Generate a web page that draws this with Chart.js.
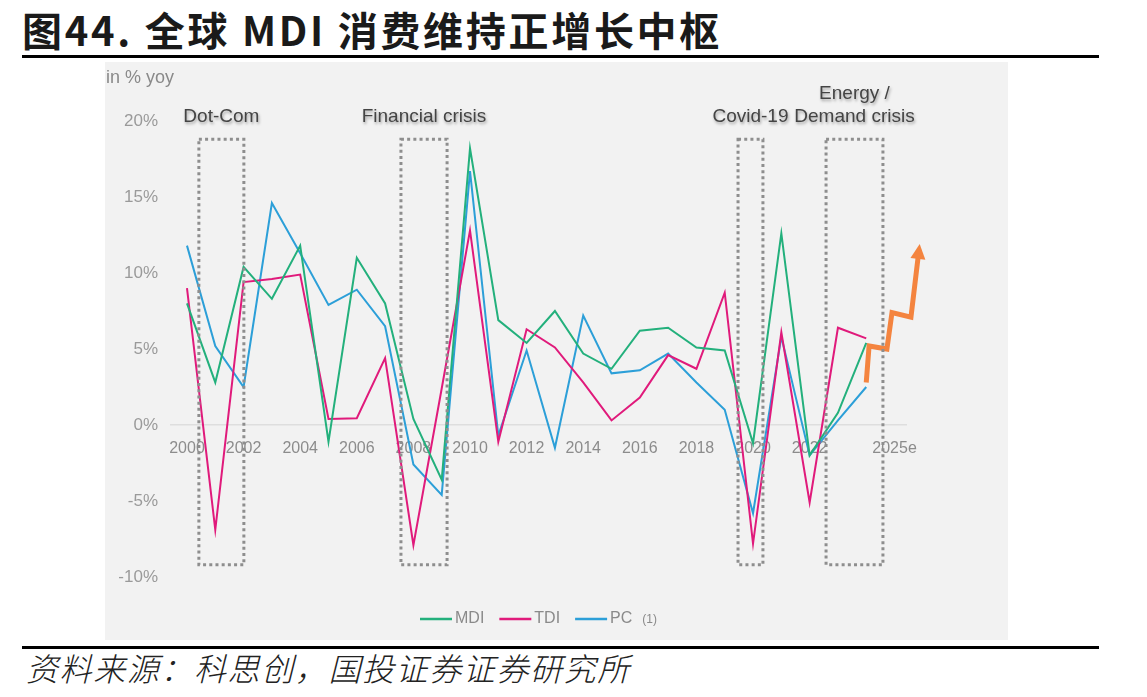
<!DOCTYPE html>
<html><head><meta charset="utf-8">
<script src="https://cdn.jsdelivr.net/npm/chart.js@4.4.1/dist/chart.umd.min.js"></script>
<style>
html,body{margin:0;padding:0;background:#fff;width:1147px;height:697px;overflow:hidden;}
#title{position:absolute;left:22px;top:9px;font:700 40px/40px "Noto Sans CJK SC";letter-spacing:2.7px;color:#1a1a1a;white-space:nowrap;}
.rule{position:absolute;left:22px;width:1077px;height:3px;background:#000;}
#box{position:absolute;left:105px;top:62px;width:903px;height:578px;background:#f2f2f2;}
#unit{position:absolute;left:1px;top:5px;font:18px "Liberation Sans";color:#8a8a8a;white-space:nowrap;}
#src{position:absolute;left:26px;top:651px;font:italic 300 32px/32px "Noto Sans CJK SC";letter-spacing:1.6px;color:#222;white-space:nowrap;}
canvas{position:absolute;left:0;top:0;}
</style></head>
<body>
<div id="title">图44. 全球 MDI 消费维持正增长中枢</div>
<div class="rule" style="top:55px"></div>
<div id="box"><canvas id="c" width="903" height="578"></canvas><div id="unit">in % yoy</div></div>
<div class="rule" style="top:646px"></div>
<div id="src">资料来源：科思创，国投证券证券研究所</div>
<script>
// ---- data ----
const years = [2000,2001,2002,2003,2004,2005,2006,2007,2008,2009,2010,2011,2012,2013,2014,2015,2016,2017,2018,2019,2020,2021,2022,2023,2024];
const mdi = [8.0,2.8,10.4,8.3,11.8,-1.1,11.0,8.0,0.4,-3.6,18.2,6.9,5.4,7.5,4.7,3.7,6.2,6.4,5.1,4.9,-1.2,12.6,-2.0,0.8,5.4];
const tdi = [9.0,-6.9,9.4,9.6,9.9,0.4,0.45,4.4,-7.9,2.4,12.8,-1.1,6.3,5.1,2.8,0.3,1.8,4.6,3.7,8.7,-7.8,6.1,-5.1,6.4,5.7];
const pc  = [11.8,5.2,2.5,14.6,11.3,7.9,8.9,6.5,-2.6,-4.6,16.7,-0.7,4.9,-1.5,7.2,3.4,3.6,4.7,2.8,1.0,-5.8,5.8,-2.0,0.3,2.5];
const forecastX = [2024,2024.1,2024.73,2024.91,2025.58,2025.83];
const forecastY = [2.8,5.2,5.0,7.4,7.1,11.0];
const xTicks = [2000,2002,2004,2006,2008,2010,2012,2014,2016,2018,2020,2022,2025];
const xTickLabels = ['2000','2002','2004','2006','2008','2010','2012','2014','2016','2018','2020','2022','2025e'];
const yTicks = [-10,-5,0,5,10,15,20];
const crisisLabels = [['Dot-Com'],['Financial crisis'],['Covid-19'],['Energy /','Demand crisis']];
const crisisFrom = [2000.42,2007.56,2019.47,2022.58];
const crisisTo = [2002.01,2009.19,2020.35,2024.59];
const seriesNames = ['MDI','TDI','PC'];
const xRange = [1999.4, 2025.44];

// ---- styles ----
const GREEN='#23b07c', PINK='#e01a7b', BLUE='#2c9fd8', ORANGE='#f4843f';
const pts = (xs, ys) => xs.map((x,i)=>({x, y: ys[i]}));

const crisisPlugin = {
  id:'crisis',
  afterDatasetsDraw(chart){
    const {ctx, scales:{x,y}, chartArea} = chart;
    ctx.save();
    ctx.strokeStyle='#8e8e8e'; ctx.lineWidth=3; ctx.setLineDash([3,3.2]);
    const yt = y.getPixelForValue(18.8), yb = y.getPixelForValue(-9.2);
    crisisFrom.forEach((f,i)=>{
      const xl = x.getPixelForValue(f), xr = x.getPixelForValue(crisisTo[i]);
      ctx.strokeRect(xl, yt, xr-xl, yb-yt);
    });
    ctx.setLineDash([]);
    ctx.font='19px "Liberation Sans"'; ctx.fillStyle='#444';
    ctx.textAlign='center'; ctx.textBaseline='middle';
    ctx.shadowColor='rgba(0,0,0,0.35)'; ctx.shadowBlur=3; ctx.shadowOffsetX=1; ctx.shadowOffsetY=2;
    crisisLabels.forEach((lab,i)=>{
      const xc = (x.getPixelForValue(crisisFrom[i]) + x.getPixelForValue(crisisTo[i]))/2;
      const n = lab.length;
      lab.forEach((t,j)=>{
        ctx.fillText(t, xc, chartArea.top - 4 - (n-1-j)*23);
      });
    });
    ctx.restore();
  }
};

const arrowPlugin = {
  id:'arrowHead',
  afterDatasetsDraw(chart){
    const meta = chart.getDatasetMeta(3);
    const el = meta.data;
    const a = el[el.length-2], b = el[el.length-1];
    const dx=b.x-a.x, dy=b.y-a.y, L=Math.hypot(dx,dy), ux=dx/L, uy=dy/L;
    const ctx=chart.ctx;
    const tipX=b.x+ux*14, tipY=b.y+uy*14, bx=b.x-ux*1, by=b.y-uy*1, hw=7.5;
    ctx.save(); ctx.fillStyle=ORANGE; ctx.beginPath();
    ctx.moveTo(tipX,tipY); ctx.lineTo(bx-uy*hw, by+ux*hw); ctx.lineTo(bx+uy*hw, by-ux*hw); ctx.closePath(); ctx.fill();
    ctx.restore();
  }
};

const legendPlugin = {
  id:'customLegend',
  afterDraw(chart){
    const ctx=chart.ctx, ca=chart.chartArea;
    const lineW=32, gap=3, itemGap=15, yc=557;
    ctx.save();
    ctx.font='16px "Liberation Sans"';
    const small='12px "Liberation Sans"';
    const widths = seriesNames.map((n,i)=>{
      let w = lineW+gap+ctx.measureText(n).width;
      if(i===2){ ctx.font=small; w += 10+ctx.measureText('(1)').width; ctx.font='16px "Liberation Sans"'; }
      return w;
    });
    const total = widths.reduce((s,w)=>s+w,0)+itemGap*(widths.length-1);
    let xPos = (ca.left+ca.right)/2 - total/2;
    seriesNames.forEach((n,i)=>{
      const ds = chart.data.datasets[i];
      ctx.strokeStyle=ds.borderColor; ctx.lineWidth=2.5;
      ctx.beginPath(); ctx.moveTo(xPos,yc); ctx.lineTo(xPos+lineW,yc); ctx.stroke();
      ctx.fillStyle='#8a8a8a'; ctx.textBaseline='middle'; ctx.textAlign='left';
      ctx.font='16px "Liberation Sans"';
      ctx.fillText(n, xPos+lineW+gap, yc);
      if(i===2){
        const tw=ctx.measureText(n).width;
        ctx.font=small; ctx.fillText('(1)', xPos+lineW+gap+tw+10, yc+1);
      }
      xPos += widths[i]+itemGap;
    });
    ctx.restore();
  }
};

new Chart(document.getElementById('c'), {
  type:'line',
  data:{datasets:[
    {label:'MDI', data:pts(years,mdi), borderColor:GREEN, borderWidth:2, pointRadius:0, tension:0},
    {label:'TDI', data:pts(years,tdi), borderColor:PINK, borderWidth:2, pointRadius:0, tension:0},
    {label:'PC', data:pts(years,pc), borderColor:BLUE, borderWidth:2, pointRadius:0, tension:0},
    {label:'forecast', data:pts(forecastX,forecastY), borderColor:ORANGE, borderWidth:5, pointRadius:0, tension:0, borderJoinStyle:'miter', borderCapStyle:'butt', clip:false}
  ]},
  options:{
    responsive:false, animation:false,
    layout:{padding:{left:0,right:101,top:59,bottom:63}},
    plugins:{legend:{display:false}, tooltip:{enabled:false}},
    scales:{
      x:{type:'linear', position:{y:0}, bounds:'data',
        afterDataLimits:(s)=>{ s.min = xRange[0]; s.max = xRange[1]; },
        afterBuildTicks:(s)=>{ s.ticks = xTicks.map(v=>({value:v})); },
        ticks:{autoSkip:false, maxRotation:0, padding:6, color:'#8c8c8c', font:{family:'Liberation Sans', size:16},
          callback:(v)=>{ const i=xTicks.indexOf(v); return i>=0?xTickLabels[i]:''; }},
        grid:{display:false}, border:{display:false}},
      y:{min:-10, max:20,
        afterBuildTicks:(s)=>{ s.ticks = yTicks.map(v=>({value:v})); },
        afterFit:(s)=>{ s.width=65; },
        ticks:{padding:12, color:'#9a9a9a', font:{family:'Liberation Sans', size:17}, callback:(v)=>v+'%'},
        grid:{drawTicks:false, lineWidth:1.5, color:(c)=> c.tick && c.tick.value===0 ? '#dedede' : 'rgba(0,0,0,0)'},
        border:{display:false}}
    }
  },
  plugins:[crisisPlugin, arrowPlugin, legendPlugin]
});
</script>
</body></html>
